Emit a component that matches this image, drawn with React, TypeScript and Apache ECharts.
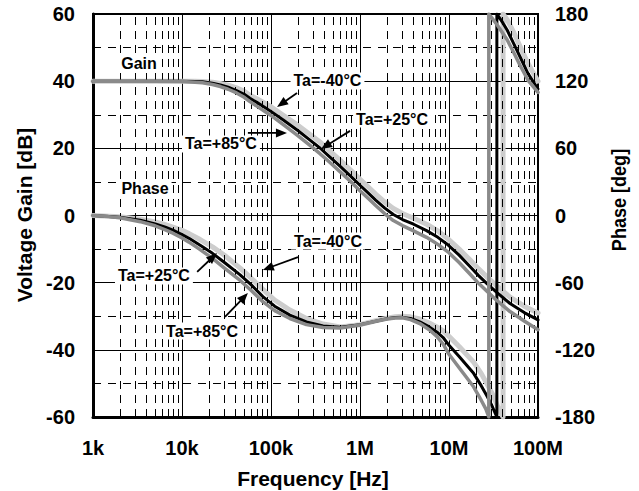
import React, { useEffect, useRef } from 'react';
import * as echarts from 'echarts';

const FONT = '"Liberation Sans", Arial, Helvetica, sans-serif';

const X_TICK_LABELS = ['1k', '10k', '100k', '1M', '10M', '100M'];
const DECADES = [1e3, 1e4, 1e5, 1e6, 1e7];
const MINOR_STEPS = [2, 3, 4, 5, 6, 7, 8, 9];

// Voltage gain [dB]
const GAIN_FREQ = [1e3, 5e3, 1e4, 1.4e4, 1.7e4, 2.2e4, 2.7e4, 3.3e4, 4.1e4, 5e4, 5.8e4, 7e4, 8.3e4, 1e5, 1.4e5, 2e5, 2.7e5, 3.55e5, 4.5e5, 6e5, 8e5, 1e6, 1.25e6, 1.5e6, 1.9e6, 2.37e6, 3e6, 4e6, 5.6e6, 7.5e6, 9.8e6, 1.3e7, 1.72e7, 2.15e7, 2.65e7, 3.44e7, 4.85e7, 7e7, 1e8];
const GAIN_M40 = [40, 40, 40, 40, 39.9, 39.7, 39.3, 38.8, 38, 37, 35.8, 34.7, 33.6, 32.4, 29.7, 26.9, 24.3, 21.9, 19.4, 16.4, 13.3, 10.8, 8.4, 6.4, 4, 2.1, 0.6, -0.8, -2.6, -4.6, -7, -10, -13.2, -15.9, -18.2, -21, -24.3, -27, -29];
const GAIN_25 = [40, 40, 40, 39.9, 39.8, 39.4, 38.9, 38.2, 37.2, 36.1, 34.9, 33.6, 32.4, 31, 28.3, 25.3, 22.6, 20.1, 17.6, 14.6, 11.5, 9, 6.6, 4.6, 2.2, 0.3, -1.2, -2.6, -4.5, -6.5, -8.8, -11.8, -15.2, -17.9, -20.2, -22.9, -26.2, -28.9, -31.1];
const GAIN_85 = [40, 40, 39.9, 39.7, 39.5, 39, 38.4, 37.6, 36.5, 35.2, 33.9, 32.5, 31.2, 29.8, 26.9, 23.8, 21, 18.4, 16, 13, 9.9, 7.4, 5, 3, 0.5, -1.5, -3, -4.6, -6.5, -8.6, -10.9, -14, -17.4, -20.2, -22.5, -25.3, -28.6, -31.4, -34];

// Phase [deg]
const PHASE_FREQ_M40 = [1e3, 1.5e3, 2e3, 3.4e3, 5e3, 6.5e3, 7.9e3, 1e4, 1.2e4, 1.6e4, 2.2e4, 3e4, 4.5e4, 6e4, 8.1e4, 1.1e5, 1.63e5, 2.5e5, 3.85e5, 6e5, 1e6, 1.5e6, 2e6, 2.5e6, 3e6, 3.7e6, 4.7e6, 6e6, 7.3e6, 8.6e6, 1e7, 1.3e7, 1.89e7, 2.3e7, 2.7e7, 3.1e7, 3.5e7, 3.8e7, 4.05e7, 4.05e7, 4.5e7, 5.3e7, 6.3e7, 7.7e7, 1e8];
const PHASE_M40 = [0, -0.6, -1.1, -3.3, -5.8, -8.2, -10.3, -13.3, -16.2, -21.5, -28, -35.5, -47, -56, -66, -75.5, -84.5, -92, -97, -99.5, -97.5, -94, -91.8, -90.5, -90, -90.5, -92.5, -96, -99.5, -103, -108, -117, -131, -141, -151, -160, -170, -176, -180, 180, 175, 164, 151, 136, 120];
const PHASE_FREQ_25 = [1e3, 1.5e3, 2e3, 3.4e3, 5e3, 6.5e3, 7.9e3, 1e4, 1.2e4, 1.6e4, 2.2e4, 3e4, 4.5e4, 6e4, 8.1e4, 1.1e5, 1.63e5, 2.5e5, 3.85e5, 6e5, 1e6, 1.5e6, 2e6, 2.5e6, 3e6, 3.7e6, 4.7e6, 6e6, 7.3e6, 8.6e6, 1e7, 1.3e7, 1.89e7, 2.3e7, 2.7e7, 3e7, 3.2e7, 3.45e7, 3.45e7, 3.55e7, 4e7, 4.5e7, 5.3e7, 6.3e7, 7.7e7, 1e8];
const PHASE_25 = [0, -0.8, -1.5, -4.2, -7.5, -10.5, -13, -17, -20.4, -26.5, -33.8, -42, -53, -62, -72.5, -81, -89, -95, -98.7, -99.8, -97.5, -94.5, -92.3, -91.2, -91, -92, -95, -99.5, -104, -109, -116, -126, -141, -152, -162, -169, -174, -180, 180, 178.5, 172.5, 165.7, 154, 141.6, 127, 113];
const PHASE_FREQ_85 = [1e3, 1.5e3, 2e3, 3.4e3, 5e3, 6.5e3, 7.9e3, 1e4, 1.2e4, 1.6e4, 2.2e4, 3e4, 4.5e4, 6e4, 8.1e4, 1.1e5, 1.63e5, 2.5e5, 3.85e5, 6e5, 1e6, 1.5e6, 2e6, 2.5e6, 3e6, 3.7e6, 4.7e6, 6e6, 7.3e6, 8.6e6, 1e7, 1.3e7, 1.89e7, 2.3e7, 2.6e7, 2.8e7, 2.8e7, 3e7, 3.5e7, 4.5e7, 5.3e7, 6.3e7, 7.7e7, 1e8];
const PHASE_85 = [0, -1, -2, -5.5, -9.2, -12.8, -15.8, -20, -23.8, -30.5, -38.3, -47, -58, -67, -77, -85, -92, -97.5, -100, -100.5, -97.8, -94.5, -92.5, -91.5, -91.3, -93, -96.5, -102, -108, -115, -124, -136, -153, -165, -173, -180, 180, 177, 170, 157, 146, 134, 121, 110];

// annotations (frequency, left-axis dB)
const LABEL_TEXTS = ['Gain', 'Phase', 'Ta=-40°C', 'Ta=+25°C', 'Ta=+85°C', 'Ta=-40°C', 'Ta=+25°C', 'Ta=+85°C'];
const LABEL_FREQ = [3.29e3, 3.84e3, 4.31e5, 2.29e6, 2.74e4, 4.37e5, 4.84e3, 1.68e4];
const LABEL_DB = [45.4, 7.9, 40.05, 28.7, 21.3, -7.6, -18, -34.4];

const ARROW_TAIL = [[1.96e5, 36.5], [5.5e4, 24.6], [7.73e5, 25.2], [2.01e5, -12.4], [1.48e4, -16.8], [3.04e4, -30.2]];
const ARROW_TIP = [[1.17e5, 32.3], [1.51e5, 24.6], [3.65e5, 19.8], [8.1e4, -16.2], [2.47e4, -11.2], [5.5e4, -23.1]];

const pairs = (xs: number[], ys: number[]) => xs.map((x, i) => [x, ys[i]]);

const LIGHT = '#cdcdcd';
const GRAY = '#8a8a8a';
const BLACK = '#000000';

function curve(name: string, xs: number[], ys: number[], color: string, width: number, yAxisIndex: number, z: number) {
  return {
    name,
    type: 'line',
    yAxisIndex,
    data: pairs(xs, ys),
    showSymbol: false,
    symbol: 'none',
    smooth: false,
    z,
    lineStyle: { color, width, cap: 'round', join: 'round' },
    emphasis: { disabled: true },
    silent: true,
  };
}

export default function App() {
  const ref = useRef<HTMLDivElement>(null);

  useEffect(() => {
    if (!ref.current) return;
    const chart = echarts.init(ref.current, undefined, { renderer: 'svg' });
    const minorFreq: number[] = [];
    DECADES.forEach((d) => MINOR_STEPS.forEach((k) => minorFreq.push(d * k)));

    const tickLabel = { fontSize: 20, fontWeight: 'bold', color: '#000', fontFamily: FONT };

    const option: any = {
      animation: false,
      textStyle: { fontFamily: FONT },
      grid: { left: 93, right: 101, top: 14, bottom: 74, show: true, borderColor: '#000', borderWidth: 2, backgroundColor: 'transparent' },
      xAxis: {
        type: 'log',
        logBase: 10,
        min: 1e3,
        max: 1e8,
        axisLine: { show: true, onZero: false, lineStyle: { color: '#000', width: 3 } },
        axisTick: { show: false },
        axisLabel: {
          ...tickLabel,
          margin: 21,
          formatter: (v: number) => X_TICK_LABELS[Math.round(Math.log10(v)) - 3] ?? '',
        },
        splitLine: { show: true, lineStyle: { color: '#000', width: 1 } },
      },
      yAxis: [
        {
          type: 'value',
          min: -60,
          max: 60,
          interval: 20,
          axisLine: { show: true, onZero: false, lineStyle: { color: '#000', width: 3 } },
          axisTick: { show: false },
          axisLabel: { ...tickLabel, margin: 18 },
          splitLine: { show: true, lineStyle: { color: '#000', width: 1 } },
          minorTick: { show: false, splitNumber: 2 },
          minorSplitLine: { show: true, lineStyle: { color: '#000', width: 1, type: [8, 7] } },
        },
        {
          type: 'value',
          min: -180,
          max: 180,
          interval: 60,
          position: 'right',
          axisLine: { show: true, onZero: false, lineStyle: { color: '#000', width: 2 } },
          axisTick: { show: false },
          axisLabel: { ...tickLabel, margin: 17 },
          splitLine: { show: false },
        },
      ],
      series: [
        {
          name: 'minor-grid',
          type: 'line',
          data: [[1e3, 0]],
          showSymbol: false,
          symbol: 'none',
          lineStyle: { width: 0 },
          silent: true,
          z: 1,
          markLine: {
            silent: true,
            symbol: 'none',
            animation: false,
            label: { show: false },
            lineStyle: { color: '#000', width: 1, type: [8, 6] },
            emphasis: { disabled: true },
            data: minorFreq.map((f) => ({ xAxis: f })),
          },
        },
        {
          name: 'annotations',
          type: 'line',
          data: [[1e3, 0]],
          showSymbol: false,
          symbol: 'none',
          lineStyle: { width: 0 },
          silent: true,
          z: 2,
          markPoint: {
            silent: true,
            symbol: 'rect',
            symbolSize: 1,
            itemStyle: { color: 'rgba(0,0,0,0)' },
            animation: false,
            data: LABEL_TEXTS.map((t, i) => ({
              coord: [LABEL_FREQ[i], LABEL_DB[i]],
              name: t,
              label: {
                show: true,
                position: 'inside',
                formatter: t,
                color: '#000',
                fontSize: 16,
                fontWeight: 'bold',
                fontFamily: FONT,
                backgroundColor: '#fff',
                padding: [1, 3, 0, 3],
              },
            })),
          },
        },
        curve('Gain -40', GAIN_FREQ, GAIN_M40, LIGHT, 5, 0, 3),
        curve('Phase -40', PHASE_FREQ_M40, PHASE_M40, LIGHT, 5, 1, 3),
        curve('Gain +25', GAIN_FREQ, GAIN_25, BLACK, 3, 0, 4),
        curve('Phase +25', PHASE_FREQ_25, PHASE_25, BLACK, 3, 1, 4),
        curve('Gain +85', GAIN_FREQ, GAIN_85, GRAY, 3.5, 0, 5),
        curve('Phase +85', PHASE_FREQ_85, PHASE_85, GRAY, 3.5, 1, 5),
      ],
    };
    chart.setOption(option);

    // arrows: positions derived from the chart's own scales
    const arrows: any[] = [];
    ARROW_TAIL.forEach((tail, i) => {
      const p0 = chart.convertToPixel({ xAxisIndex: 0, yAxisIndex: 0 }, tail) as number[];
      const p1 = chart.convertToPixel({ xAxisIndex: 0, yAxisIndex: 0 }, ARROW_TIP[i]) as number[];
      const dx = p1[0] - p0[0];
      const dy = p1[1] - p0[1];
      const len = Math.sqrt(dx * dx + dy * dy) || 1;
      const ux = dx / len;
      const uy = dy / len;
      const headLen = 11;
      const headHalf = 4.5;
      const bx = p1[0] - ux * headLen;
      const by = p1[1] - uy * headLen;
      arrows.push({
        type: 'line',
        silent: true,
        z: 50,
        shape: { x1: p0[0], y1: p0[1], x2: bx + ux * 1, y2: by + uy * 1 },
        style: { stroke: '#000', lineWidth: 1.8 },
      });
      arrows.push({
        type: 'polygon',
        silent: true,
        z: 50,
        shape: {
          points: [
            [p1[0], p1[1]],
            [bx - uy * headHalf, by + ux * headHalf],
            [bx + uy * headHalf, by - ux * headHalf],
          ],
        },
        style: { fill: '#000' },
      });
    });

    chart.setOption({
      graphic: [
        {
          type: 'text',
          x: 24,
          y: 215,
          rotation: Math.PI / 2,
          silent: true,
          style: { text: 'Voltage Gain [dB]', font: `bold 21px ${FONT}`, fill: '#000', align: 'center', verticalAlign: 'middle' },
        },
        {
          type: 'text',
          x: 618,
          y: 200,
          rotation: Math.PI / 2,
          scaleX: 0.86,
          silent: true,
          style: { text: 'Phase [deg]', font: `bold 21px ${FONT}`, fill: '#000', align: 'center', verticalAlign: 'middle' },
        },
        {
          type: 'text',
          x: 313,
          y: 478,
          silent: true,
          style: { text: 'Frequency [Hz]', font: `bold 21px ${FONT}`, fill: '#000', align: 'center', verticalAlign: 'middle' },
        },
        ...arrows,
      ],
    });
    return () => chart.dispose();
  }, []);

  return <div ref={ref} style={{ position: 'fixed', left: 0, top: 0, width: 639, height: 491, background: '#fff' }} />;
}
